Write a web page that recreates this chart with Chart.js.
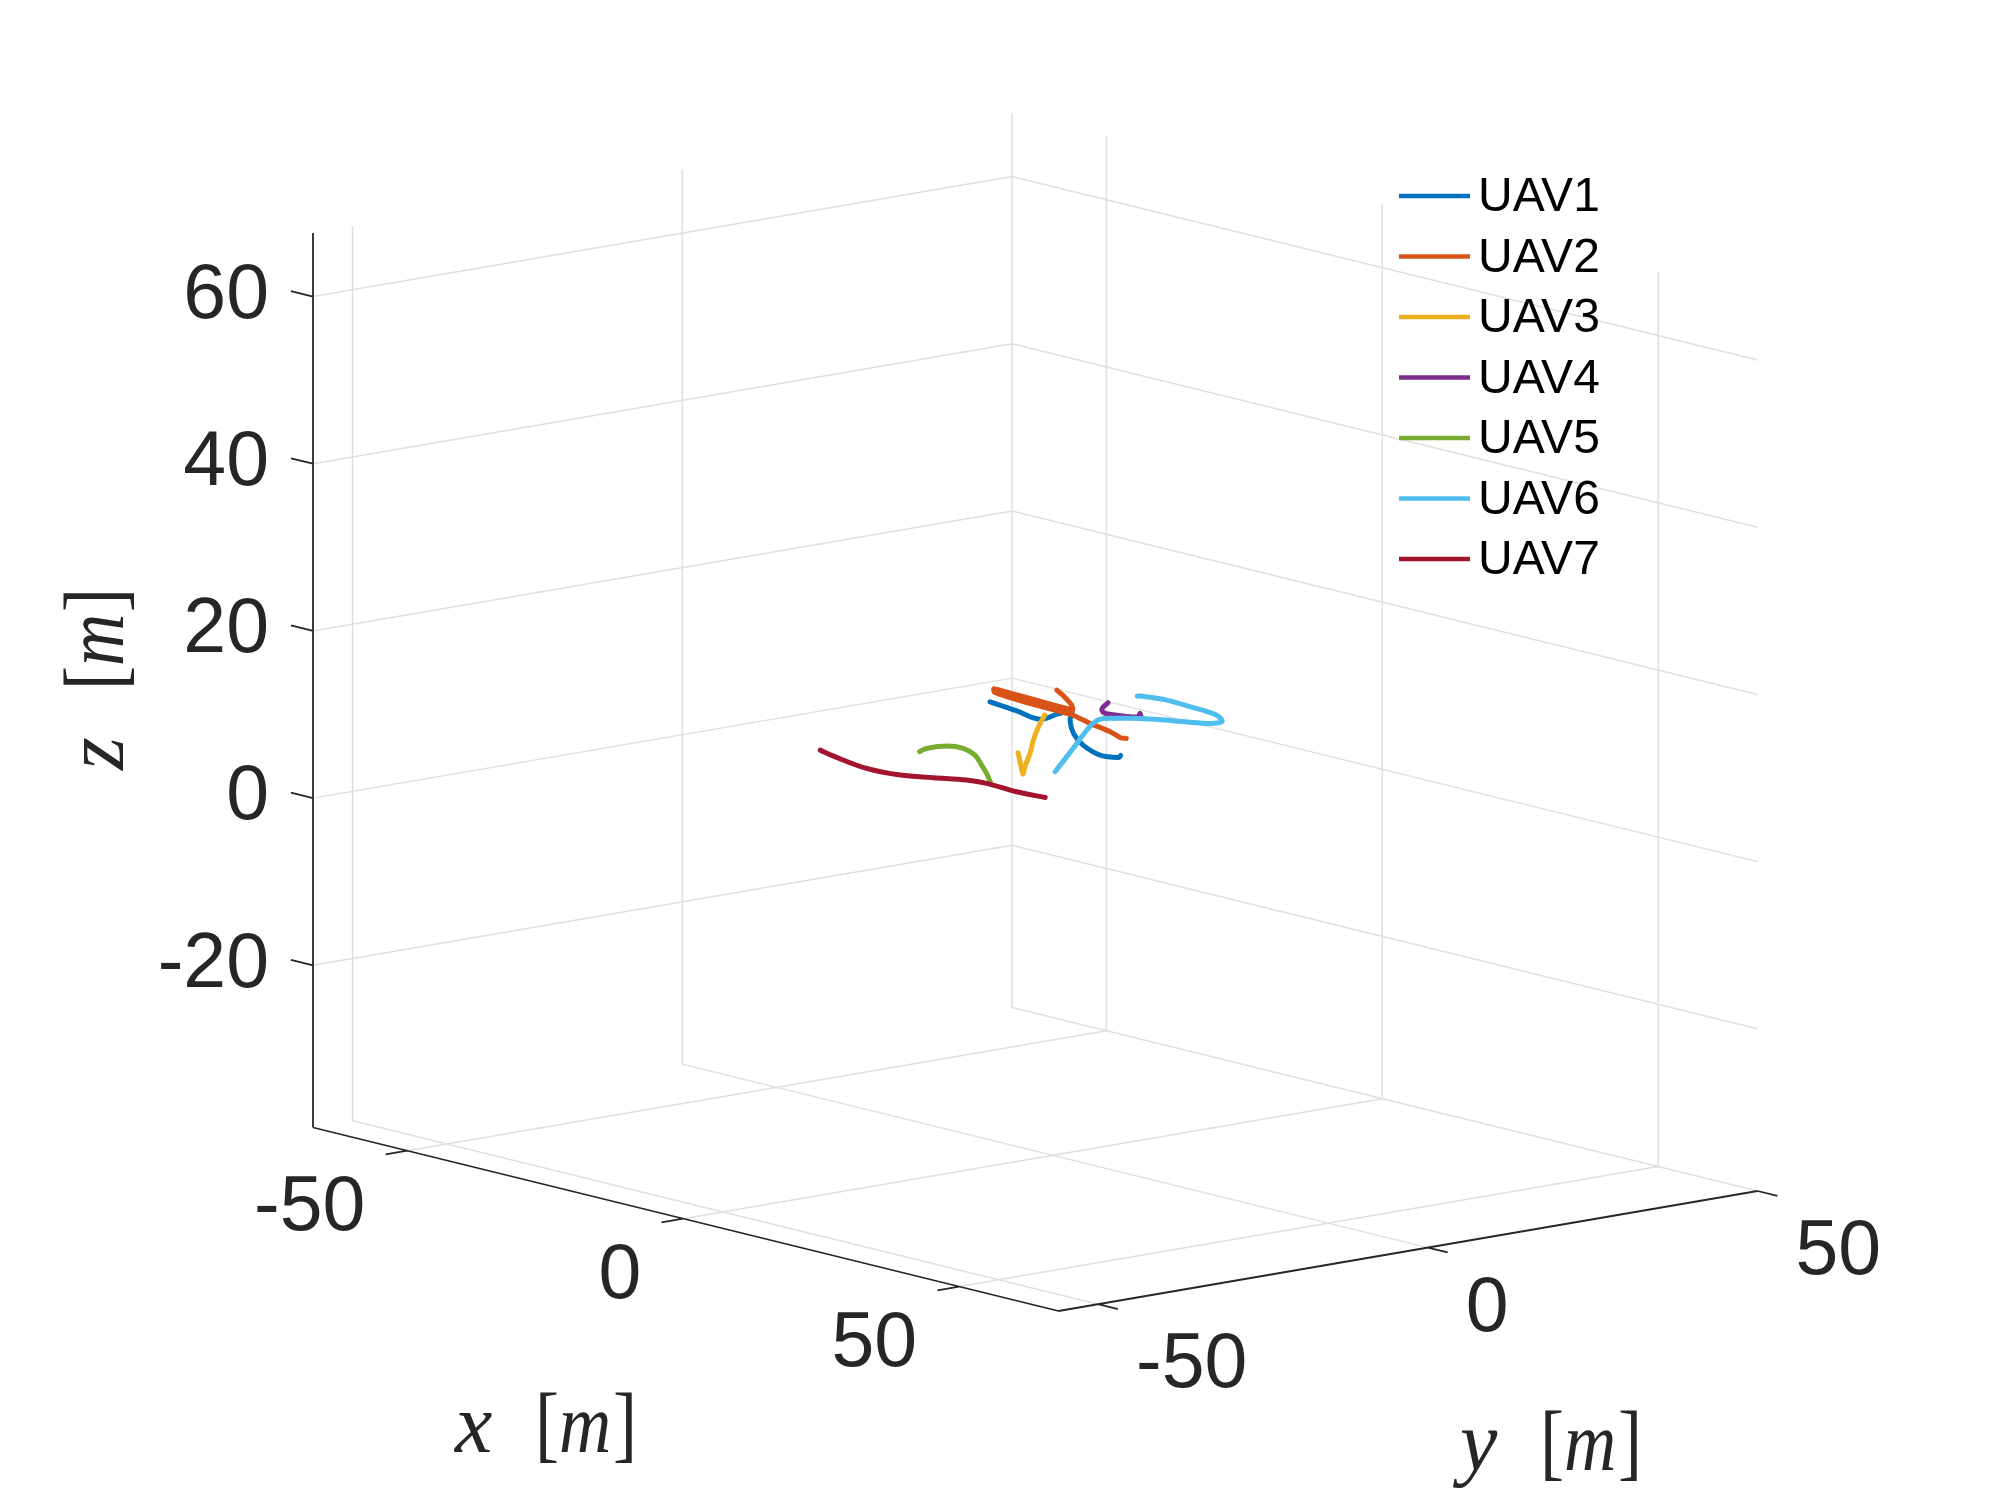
<!DOCTYPE html>
<html>
<head>
<meta charset="utf-8">
<script src="https://cdn.jsdelivr.net/npm/chart.js@4.4.1/dist/chart.umd.min.js"></script>
<style>
  body { margin: 0; background: #fff; }
  canvas { display: block; }
</style>
</head>
<body>
<canvas id="traj" width="2000" height="1500"></canvas>
<script>
// axis limits and ticks (metres)
const xLim = [-67.1, 68];
const yLim = [-56, 50];
const zLim = [-39.4, 67.6];
const xTicks = [-50, 0, 50];
const yTicks = [-50, 0, 50];
const zTicks = [-20, 0, 20, 40, 60];
const xTickLabels = ['-50', '0', '50'];
const yTickLabels = ['-50', '0', '50'];
const zTickLabels = ['-20', '0', '20', '40', '60'];

const uavNames = ['UAV1', 'UAV2', 'UAV3', 'UAV4', 'UAV5', 'UAV6', 'UAV7'];
const uavColors = ['#0072BD', '#D95319', '#EDB120', '#7E2F8E', '#77AC30', '#4DBEEE', '#A2142F'];

// trajectories
const uav1X = [-22.2, -16.4, -10.9, -12.0, -11.8, -8.3, -2.3, 3.5, 9.1, 11.5, 10.8];
const uav1Y = [9.1, 8.2, 7.2, 11.1, 12.8, 9.6, 5.1, 1.7, -0.4, 0.4, 1.3];
const uav1Z = [10, 10, 10, 10, 10, 10, 10, 10, 10, 10, 10];

const uav2X = [-22.3, -18.9, -14.7, -12.5, -27.6, -26.1, -17.9, -10.3, -5.4, -0.3, 3.1, 3.8];
const uav2Y = [19.3, 17.6, 15.2, 13.5, 14.2, 13.0, 12.0, 11.7, 10.2, 9.0, 7.7, 8.0];
const uav2Z = [10, 10, 10, 10, 10, 10, 10, 10, 10, 10, 10, 10];

const uav3X = [2.0, 11.6, 8.6, 3.2, -2.4, -7.8, -12.4];
const uav3Y = [-6.9, -14.2, -11.4, -6.1, -0.9, 4.4, 9.2];
const uav3Z = [10, 10, 10, 10, 10, 10, 10];

const uav4X = [-13.0, -11.0, -9.0, -7.0, -5.3, -4.7, -6.0, -3.6];
const uav4Y = [19.3, 16.7, 15.3, 15.6, 16.2, 16.9, 18.3, 16.5];
const uav4Z = [10, 10, 10, 10, 10, 10, 10, 10];

const uav5X = [-5.8, -6.7, -6.2, -4.0, -0.2, 4.6, 8.6, 12.5];
const uav5Y = [-15.3, -13.5, -10.8, -10.2, -11.6, -14.6, -17.2, -19.9];
const uav5Z = [10, 10, 10, 10, 10, 10, 10, 10];

const uav6X = [13.0, 4.2, -4.0, -6.4, -5.6, -3.8, -0.4, 3.3, 3.7, 0.4, -5.2, -9.8, -13.5, -13.7];
const uav6Y = [-10.5, -0.4, 9.0, 12.5, 14.4, 16.5, 18.6, 20.6, 22.6, 24.5, 25.2, 25.5, 24.6, 24.3];
const uav6Z = [10, 10, 10, 10, 10, 10, 10, 10, 10, 10, 10, 10, 10, 10];

const uav7X = [-13.9, -10.3, -2.5, 2.9, 6.5, 10.0, 12.9, 18.8, 23.4];
const uav7Y = [-23.6, -24.6, -26.1, -25.5, -23.5, -21.4, -20.8, -21.2, -20.7];
const uav7Z = [10, 10, 10, 10, 10, 10, 10, 10, 10];

const trajX = [uav1X, uav2X, uav3X, uav4X, uav5X, uav6X, uav7X];
const trajY = [uav1Y, uav2Y, uav3Y, uav4Y, uav5Y, uav6Y, uav7Y];
const trajZ = [uav1Z, uav2Z, uav3Z, uav4Z, uav5Z, uav6Z, uav7Z];

// orthographic view: where the box corners land on the view plane
const cornerA = [313, 1127.5];   // (xmin, ymin, zmin)
const cornerB = [1058.5, 1311];  // (xmax, ymin, zmin)
const cornerC = [1757.5, 1191];  // (xmax, ymax, zmin)
const zTopV = 233;               // (xmin, ymin, zmax)

function project(x, y, z) {
    let fx = (x - xLim[0]) / (xLim[1] - xLim[0]);
    let fy = (y - yLim[0]) / (yLim[1] - yLim[0]);
    let fz = (z - zLim[0]) / (zLim[1] - zLim[0]);
    return {
        x: cornerA[0] + fx * (cornerB[0] - cornerA[0]) + fy * (cornerC[0] - cornerB[0]),
        y: cornerA[1] + fx * (cornerB[1] - cornerA[1]) + fy * (cornerC[1] - cornerB[1]) + fz * (zTopV - cornerA[1])
    };
}

const textColor = '#262626';
const gridColor = 'rgba(38,38,38,0.15)';
const tickFont = '77px "Liberation Sans", Arial, sans-serif';
const serif = '"Liberation Serif", "Times New Roman", serif';

const box3d = {
    id: 'box3d',
    beforeDatasetsDraw(chart) {
        const ctx = chart.ctx;
        const sx = chart.scales.x, sy = chart.scales.y;
        const pt = (x, y, z) => {
            let p = project(x, y, z);
            return [sx.getPixelForValue(p.x), sy.getPixelForValue(p.y)];
        };
        const seg = (a, b) => {
            let p = pt(a[0], a[1], a[2]), q = pt(b[0], b[1], b[2]);
            ctx.moveTo(p[0], p[1]);
            ctx.lineTo(q[0], q[1]);
        };
        const [x0, x1] = xLim, [y0, y1] = yLim, [z0, z1] = zLim;

        ctx.save();
        // grid on floor and the two back walls
        ctx.beginPath();
        xTicks.forEach(t => {
            seg([t, y0, z0], [t, y1, z0]);
            seg([t, y1, z0], [t, y1, z1]);
        });
        yTicks.forEach(t => {
            seg([x0, t, z0], [x1, t, z0]);
            seg([x0, t, z0], [x0, t, z1]);
        });
        zTicks.forEach(t => {
            seg([x0, y0, t], [x0, y1, t]);
            seg([x0, y1, t], [x1, y1, t]);
        });
        ctx.strokeStyle = gridColor;
        ctx.lineWidth = 1.5;
        ctx.stroke();

        // axis lines and tick marks
        ctx.beginPath();
        seg([x0, y0, z0], [x0, y0, z1]);
        seg([x0, y0, z0], [x1, y0, z0]);
        seg([x1, y0, z0], [x1, y1, z0]);
        zTicks.forEach(t => seg([x0, y0, t], [x0 - 4, y0, t]));
        xTicks.forEach(t => seg([t, y0, z0], [t, y0 - 3.3, z0]));
        yTicks.forEach(t => seg([x1, t, z0], [x1 + 3.6, t, z0]));
        ctx.strokeStyle = textColor;
        ctx.lineWidth = 1.8;
        ctx.stroke();

        // tick labels
        ctx.fillStyle = textColor;
        ctx.font = tickFont;
        ctx.textBaseline = 'middle';
        ctx.textAlign = 'right';
        zTicks.forEach((t, i) => {
            let p = pt(x0, y0, t);
            ctx.fillText(zTickLabels[i], p[0] - 44, p[1]);
        });
        xTicks.forEach((t, i) => {
            let p = pt(t, y0, z0);
            ctx.fillText(xTickLabels[i], p[0] - 42, p[1] + 58);
        });
        ctx.textAlign = 'left';
        yTicks.forEach((t, i) => {
            let p = pt(x1, t, z0);
            ctx.fillText(yTickLabels[i], p[0] + 38, p[1] + 62);
        });

        // axis labels  (symbol [m])
        const axisLabel = (sym, px, py, rot) => {
            ctx.save();
            ctx.translate(px, py);
            ctx.rotate(rot);
            ctx.textAlign = 'left';
            ctx.textBaseline = 'alphabetic';
            ctx.font = 'italic 84px ' + serif;
            ctx.fillText(sym, 0, 0);
            ctx.translate(80, 0);
            ctx.scale(0.86, 1);
            let off = 0;
            ctx.font = '84px ' + serif;
            ctx.fillText('[', off, 0);
            off += ctx.measureText('[').width;
            ctx.font = 'italic 84px ' + serif;
            ctx.fillText('m', off, 0);
            off += ctx.measureText('m').width + 2;
            ctx.font = '84px ' + serif;
            ctx.fillText(']', off, 0);
            ctx.restore();
        };
        axisLabel('x', 455, 1452, 0);
        axisLabel('y', 1460, 1470, 0);
        axisLabel('z', 123, 770, -Math.PI / 2);
        ctx.restore();
    }
};

const legendBox = {
    id: 'legendBox',
    afterDatasetsDraw(chart) {
        const ctx = chart.ctx;
        ctx.save();
        ctx.font = '48px "Liberation Sans", Arial, sans-serif';
        ctx.textBaseline = 'middle';
        ctx.textAlign = 'left';
        chart.data.datasets.forEach((ds, i) => {
            let yy = 196 + 60.5 * i;
            ctx.beginPath();
            ctx.moveTo(1399, yy);
            ctx.lineTo(1470, yy);
            ctx.strokeStyle = ds.borderColor;
            ctx.lineWidth = 4.5;
            ctx.stroke();
            ctx.fillStyle = '#000';
            ctx.fillText(ds.label, 1478, yy + 2);
        });
        ctx.restore();
    }
};

let datasets = [];
for (let i = 0; i < uavNames.length; i++) {
    let pts = trajX[i].map((x, k) => project(x, trajY[i][k], trajZ[i][k]));
    datasets.push({
        label: uavNames[i],
        data: pts,
        showLine: true,
        borderColor: uavColors[i],
        backgroundColor: uavColors[i],
        borderWidth: 5,
        pointRadius: 0,
        tension: (i === 1 || i === 2) ? 0.15 : 0.35,
        borderCapStyle: 'round',
        borderJoinStyle: 'round',
        order: uavNames.length - i
    });
}

let ctx = document.getElementById('traj').getContext('2d');
new Chart(ctx, {
    type: 'scatter',
    data: { datasets: datasets },
    options: {
        responsive: false,
        animation: false,
        layout: { padding: 0 },
        plugins: {
            legend: { display: false },
            tooltip: { enabled: false }
        },
        scales: {
            x: { type: 'linear', min: 0, max: 2000, display: false },
            y: { type: 'linear', min: 0, max: 1500, reverse: true, display: false }
        }
    },
    plugins: [box3d, legendBox]
});
</script>
</body>
</html>
